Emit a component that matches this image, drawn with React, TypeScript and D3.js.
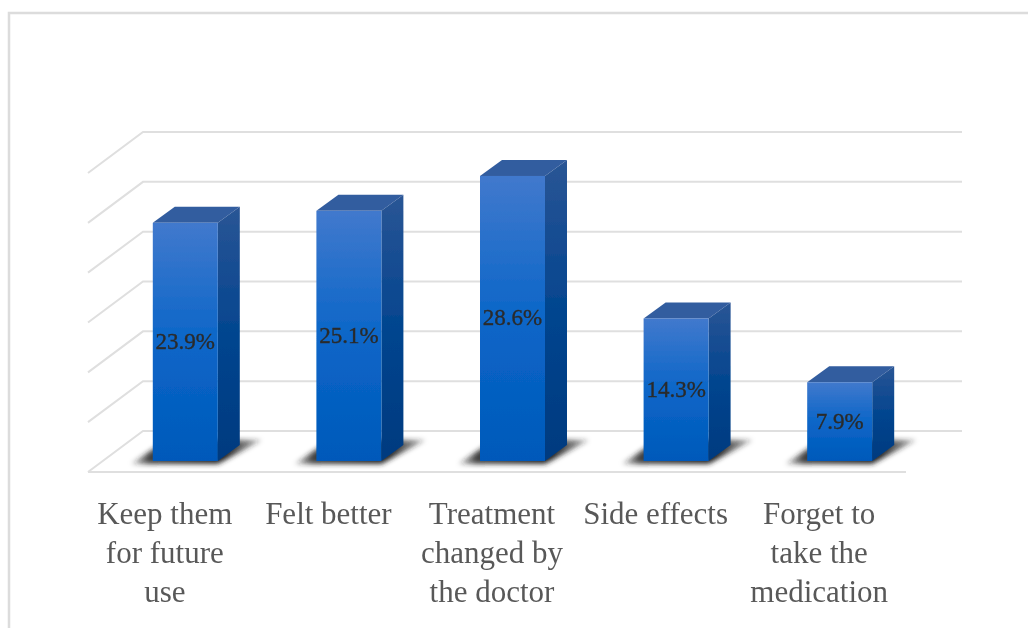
import React from "react";
import * as d3 from "d3";

const categories = ["Keep them for future use", "Felt better", "Treatment changed by the doctor", "Side effects", "Forget to take the medication"];
const values = [23.9, 25.1, 28.6, 14.3, 7.9];
const valueLabels = ["23.9%", "25.1%", "28.6%", "14.3%", "7.9%"];
const categoryLines = [["Keep them", "for future", "use"], ["Felt better"], ["Treatment", "changed by", "the doctor"], ["Side effects"], ["Forget to", "take the", "medication"]];
const gridTicks = [0, 5, 10, 15, 20, 25, 30];

const W = 1028, H = 628;
const floorDx = 55;
const barDx = 22, barDy = -16;
const frontY = 472;

const x = d3.scaleBand<string>().domain(categories).range([88, 906]).paddingInner(0).paddingOuter(0);
const y = d3.scaleLinear().domain([0, 30]).range([431, 132]);
const barH = (v: number) => y(0) - y(v);

export default function App() {
  const bw = 65;
  const baseY = 461;
  const gridLine = d3.line<[number, number]>();
  return (
    <svg width={W} height={H} viewBox={`0 0 ${W} ${H}`} style={{ position: "absolute", left: 0, top: 0, background: "#fff" }}>
      <defs>
        <linearGradient id="front" x1="0" y1="0" x2="0" y2="1">
          <stop offset="0" stopColor="#4179cd" />
          <stop offset="0.5" stopColor="#0b66c8" />
          <stop offset="1" stopColor="#0059ba" />
        </linearGradient>
        <linearGradient id="side" x1="0" y1="0" x2="0" y2="1">
          <stop offset="0" stopColor="#2a5595" />
          <stop offset="0.5" stopColor="#03458f" />
          <stop offset="1" stopColor="#023a7f" />
        </linearGradient>
        <filter id="soft" x="-20%" y="-20%" width="140%" height="140%"><feGaussianBlur stdDeviation="0.5" /></filter>
        <filter id="shadow" x="-30%" y="-50%" width="160%" height="200%"><feGaussianBlur stdDeviation="2.4" /></filter>
        <linearGradient id="shadowFill" x1="0" y1="0" x2="1" y2="0">
          <stop offset="0" stopColor="#222" stopOpacity="0.15" />
          <stop offset="0.14" stopColor="#222" stopOpacity="0.85" />
          <stop offset="0.72" stopColor="#222" stopOpacity="1" />
          <stop offset="1" stopColor="#222" stopOpacity="0.3" />
        </linearGradient>
      </defs>
      <g filter="url(#soft)">
        <path d="M9,628V13H1028" fill="none" stroke="#dcdcdc" strokeWidth={2.5} />
        {gridTicks.map((t) => (
          <path key={t} d={gridLine([[88, y(t) + 41], [88 + floorDx, y(t)], [962, y(t)]]) ?? ""} fill="none" stroke="#dfdfdf" strokeWidth={2} />
        ))}
        <path d={`M88,${frontY}H906`} stroke="#dfdfdf" strokeWidth={2} fill="none" />
      </g>
      {categories.map((c) => {
        const left = (x(c) ?? 0) + (x.bandwidth() - bw) / 2 + 15.5;
        return (
          <path key={c} d={`M${left - 22},${baseY + 3}H${left + bw}L${left + bw + 44},${baseY - 21}H${left + 14}Z`} fill="url(#shadowFill)" filter="url(#shadow)" />
        );
      })}
      <g filter="url(#soft)">
        {categories.map((c, i) => {
          const left = (x(c) ?? 0) + (x.bandwidth() - bw) / 2 + 15.5;
          const top = baseY - barH(values[i]);
          const right = left + bw;
          return (
            <g key={c}>
              <path d={`M${left},${top}L${left + barDx},${top + barDy}H${right + barDx}L${right},${top}Z`} fill="#335d9f" />
              <path d={`M${right},${top}L${right + barDx},${top + barDy}V${baseY + barDy}L${right},${baseY}Z`} fill="url(#side)" />
              <rect x={left} y={top} width={bw} height={barH(values[i])} fill="url(#front)" />
              <text x={left + bw / 2} y={(top + baseY) / 2 + 7} textAnchor="middle" fontFamily="'Liberation Serif', serif" fontSize={23} fill="#2b2b2b" stroke="#2b2b2b" strokeWidth={0.35}>{valueLabels[i]}</text>
            </g>
          );
        })}
        {categories.map((c, i) => (
          <text key={c} textAnchor="middle" fontFamily="'Liberation Serif', serif" fontSize={31} fill="#595959">
            {categoryLines[i].map((l, k) => (
              <tspan key={k} x={(x(c) ?? 0) + x.bandwidth() / 2 - 5} y={524 + k * 39}>{l}</tspan>
            ))}
          </text>
        ))}
      </g>
    </svg>
  );
}
